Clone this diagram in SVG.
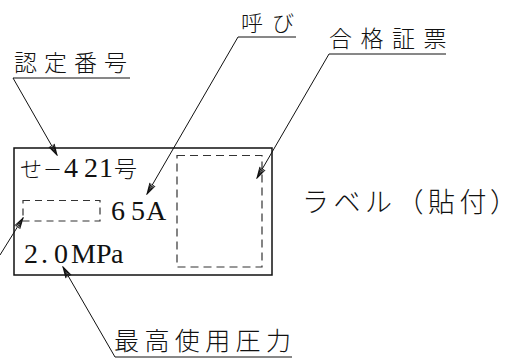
<svg xmlns="http://www.w3.org/2000/svg" width="517" height="358" viewBox="0 0 517 358">
<style>
.jp{font-family:"Noto Sans CJK JP","Noto Sans",sans-serif;font-weight:300;fill:#111}
.num{font-family:"Liberation Serif","DejaVu Serif",serif;fill:#111}
.ln{stroke:#111;stroke-width:1;fill:none}
.dash{stroke:#333;stroke-width:1.2;fill:none;stroke-dasharray:8 5}
</style>
<defs>
<marker id="ah" viewBox="-12 -4 13 8" refX="0" refY="0" markerWidth="13" markerHeight="8" markerUnits="userSpaceOnUse" orient="auto">
<path d="M-11,-3 L0,0 L-11,3 M-11,-1.5 L0,0 L-11,1.5" stroke="#111" stroke-width="1" fill="none"/>
</marker>
</defs>
<rect width="517" height="358" fill="#fff"/>
<g id="label-plate">
<rect x="14" y="148" width="258" height="127" fill="none" stroke="#111" stroke-width="1.5"/>
<rect class="dash" x="177" y="155.5" width="85" height="111.5"/>
<rect class="dash" x="23" y="200.5" width="77" height="20.5" style="stroke-dasharray:7 5"/>
<text class="jp" x="20" y="177" font-size="22">せ</text>
<text class="jp" x="43" y="177" font-size="19">－</text>
<text class="num" x="64 84 99" y="177" font-size="28">421</text>
<text class="jp" x="114" y="177" font-size="23">号</text>
<text class="num" x="111 131 146" y="220" font-size="28">65A</text>
<text class="num" x="24 41 54 71 96 111" y="263" font-size="28">2.0MPa</text>
</g>
<g id="label-text">
<text class="jp" x="302 333.5 365 396.5 428 459.5 490" y="212" font-size="27">ラベル（貼付）</text>
</g>
<g id="callout-nintei">
<text class="jp" x="14 44 74 104" y="71" font-size="23">認定番号</text>
</g>
<g id="callout-yobi">
<text class="jp" x="241 272" y="31" font-size="22">呼び</text>
</g>
<g id="callout-goukaku">
<text class="jp" x="329 360.5 392 423.5" y="47" font-size="23">合格証票</text>
</g>
<g id="callout-atsuryoku">
<text class="jp" x="114 144.4 174.8 205.2 235.6 266" y="350" font-size="25">最高使用圧力</text>
</g>
<g id="connectors">
<polyline class="ln" points="130,78 13,78 57,155" marker-end="url(#ah)"/>
<polyline class="ln" points="296,37 238,37 147,194" marker-end="url(#ah)"/>
<polyline class="ln" points="446,54 329,54 257,178" marker-end="url(#ah)"/>
<polyline class="ln" points="0,255 23,218" marker-end="url(#ah)"/>
<polyline class="ln" points="292,357 115,357 63,267" marker-end="url(#ah)"/>
</g>
</svg>
